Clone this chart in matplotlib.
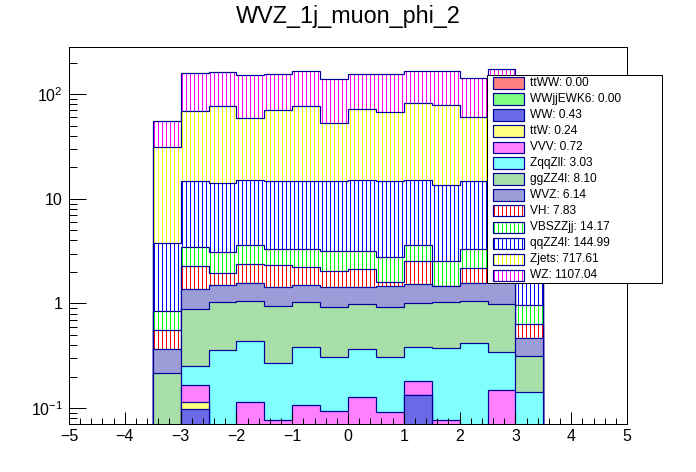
import numpy as np
import matplotlib
matplotlib.use("Agg")
import matplotlib.pyplot as plt
import matplotlib.hatch as mhatch
from matplotlib.patches import Rectangle
from matplotlib.ticker import FixedLocator, FuncFormatter, MultipleLocator, NullFormatter

# dpi 72 -> 1 pt == 1 px, and the hatch tile is 72 px wide ('|||' = 18 lines = 4 px pitch)
DPI = 72

# put vertical hatch lines on pixel centres so they come out as crisp 1 px lines
_vert_orig = mhatch.VerticalHatch.set_vertices_and_codes
def _vert_shifted(self, vertices, codes):
    _vert_orig(self, vertices, codes)
    vertices[:, 0] += 0.5 / DPI
mhatch.VerticalHatch.set_vertices_and_codes = _vert_shifted

plt.rcParams.update({
    "font.family": ["Liberation Sans", "DejaVu Sans"],
    "mathtext.fontset": "custom",
    "mathtext.rm": "Liberation Sans",
    "mathtext.default": "regular",
    "hatch.linewidth": 1.0,
})

# ---------------- data ----------------
edges = np.arange(-3.5, 3.51, 0.5)

names = ["ttWW", "WWjjEWK6", "WW", "ttW", "VVV", "ZqqZll", "ggZZ4l",
         "WVZ", "VH", "VBSZZjj", "qqZZ4l", "Zjets", "WZ"]
yields = ["0.00", "0.00", "0.43", "0.24", "0.72", "3.03", "8.10",
          "6.14", "7.83", "14.17", "144.99", "717.61", "1107.04"]

ttWW     = [0] * 14
WWjjEWK6 = [0] * 14
WW       = [0, 0.098, 0, 0, 0, 0, 0, 0, 0, 0.134, 0, 0, 0, 0]
ttW      = [0, 0.016, 0, 0, 0, 0, 0, 0, 0, 0, 0, 0, 0, 0]
VVV      = [0, 0.052, 0, 0.115, 0.076, 0.106, 0.093, 0.127, 0.092, 0.046, 0.077, 0, 0.148, 0]
ZqqZll   = [0, 0.085, 0.356, 0.319, 0.191, 0.274, 0.212, 0.237, 0.217, 0.205, 0.295, 0.415, 0.192, 0.141]
ggZZ4l   = [0.215, 0.626, 0.680, 0.611, 0.669, 0.642, 0.623, 0.621, 0.619, 0.628, 0.658, 0.635, 0.645, 0.175]
WVZ      = [0.152, 0.494, 0.450, 0.508, 0.484, 0.464, 0.492, 0.435, 0.535, 0.517, 0.433, 0.503, 0.615, 0.147]
VH       = [0.190, 0.890, 0.448, 0.807, 0.890, 0.724, 0.600, 0.720, 0.145, 1.020, 0.020, 0.607, 0.600, 0.175]
VBSZZjj  = [0.289, 1.170, 1.136, 1.220, 1.040, 1.070, 1.120, 1.040, 1.142, 1.080, 1.067, 1.140, 1.100, 0.319]
qqZZ4l   = [2.90, 11.47, 11.23, 11.72, 11.35, 11.42, 11.76, 12.12, 11.95, 11.67, 10.95, 11.40, 11.70, 2.64]
Zjets    = [27.9, 54.8, 63.5, 44.5, 56.6, 63.1, 38.7, 56.9, 53.5, 67.1, 66.0, 45.5, 63.0, 26.4]
WZ       = [24.4, 91.1, 86.6, 91.8, 86.0, 90.2, 87.4, 83.8, 87.8, 85.6, 88.5, 82.6, 97.7, 25.0]

series = [ttWW, WWjjEWK6, WW, ttW, VVV, ZqqZll, ggZZ4l,
          WVZ, VH, VBSZZjj, qqZZ4l, Zjets, WZ]

# fill style: (face colour, hatch colour, hatch); checker fills as their mean colour
styles = [
    ("#ff8080", None, None),
    ("#80ff80", None, None),
    ("#6a6ae6", None, None),
    ("#ffff80", None, None),
    ("#ff80ff", None, None),
    ("#80ffff", None, None),
    ("#a8dea8", None, None),
    ("#9c9cd8", None, None),
    ("white", "#ff0000", "|||"),
    ("white", "#00ff00", "|||"),
    ("white", "#0000ff", "|||"),
    ("white", "#ffff00", "|||"),
    ("white", "#ff00ff", "|||"),
]
LINE  = "#000099"
FLOOR = 1e-3

# ---------------- figure ----------------
W, H = 696, 472
fig = plt.figure(figsize=(W / DPI, H / DPI), dpi=DPI)
ax = fig.add_axes([69 / W, 48 / H, 558 / W, 377 / H])
ax.set_yscale("log")

cum = np.cumsum(np.array(series, dtype=float), axis=0)
for i in reversed(range(len(series))):
    if cum[i].max() <= 0:
        continue
    top = np.maximum(cum[i], FLOOR)
    fc, hc, h = styles[i]
    ax.stairs(top, edges, baseline=FLOOR, fill=True, facecolor=fc,
              edgecolor=hc if hc else fc, hatch=h, linewidth=0)
    ax.stairs(top, edges, baseline=FLOOR, color=LINE, linewidth=1.2)

ax.set_xlim(-5, 5)
ax.set_ylim(0.0703, 283)

# axes / ticks, ROOT look
for s in ax.spines.values():
    s.set_linewidth(1.0)
ax.xaxis.set_major_locator(MultipleLocator(1))
ax.xaxis.set_minor_locator(MultipleLocator(0.2))
ax.yaxis.set_major_locator(FixedLocator([0.1, 1, 10, 100]))
ax.yaxis.set_minor_locator(FixedLocator(
    [m * 10.0 ** e for e in range(-2, 3) for m in range(2, 10)]))
ylab = {0.1: r"$10^{-1}$", 1: "1", 10: "10", 100: r"$10^{2}$"}
ax.yaxis.set_major_formatter(FuncFormatter(lambda v, p: ylab.get(round(v, 3), "")))
ax.yaxis.set_minor_formatter(NullFormatter())
ax.tick_params(which="both", direction="in", top=False, right=False,
               width=1.0, labelsize=16)
ax.tick_params(axis="x", which="major", length=11.7, pad=5)
ax.tick_params(axis="x", which="minor", length=6)
ax.tick_params(axis="y", which="major", length=17, pad=6)
ax.tick_params(axis="y", which="minor", length=8.3)

fig.text(0.5, 1 - 17 / H, "WVZ_1j_muon_phi_2", ha="center", va="center",
         fontsize=23.4)

# ---------------- legend box (ROOT TLegend style) ----------------
def fx(px):
    return px / W

def fy(py):
    return 1 - py / H

fig.add_artist(Rectangle((fx(487), fy(283)), fx(662) - fx(487), fy(75) - fy(283),
                         transform=fig.transFigure, facecolor="white",
                         edgecolor="black", linewidth=1.0, zorder=10))
for i, (name, yl) in enumerate(zip(names, yields)):
    cy = 83 + 16 * i
    fc, hc, h = styles[i]
    fig.add_artist(Rectangle((fx(493), fy(cy + 5.5)), fx(524) - fx(493), 11 / H,
                             transform=fig.transFigure, facecolor=fc,
                             edgecolor=hc if hc else fc, hatch=h,
                             linewidth=0, zorder=11))
    fig.add_artist(Rectangle((fx(493), fy(cy + 5.5)), fx(524) - fx(493), 11 / H,
                             transform=fig.transFigure, fill=False,
                             edgecolor=LINE, linewidth=1.2, zorder=12))
    fig.text(fx(530), fy(cy), f"{name}: {yl}", ha="left", va="center",
             fontsize=11.9, zorder=13)

fig.savefig("out.png", dpi=DPI)
